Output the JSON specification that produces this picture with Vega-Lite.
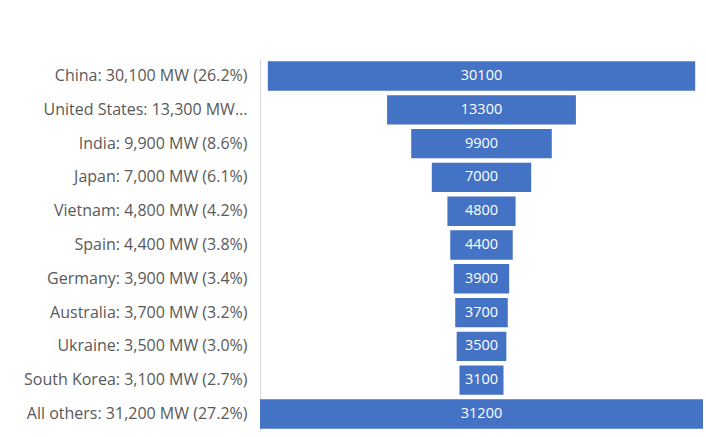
{
  "$schema": "https://vega.github.io/schema/vega-lite/v6.json",
  "autosize": {"type": "none"},
  "padding": {"left": 260, "top": 59, "right": 3, "bottom": 6},
  "width": 443,
  "height": 372,
  "background": "white",
  "config": {
    "view": {"stroke": null},
    "font": "Open Sans"
  },
  "data": {
    "values": [
      {"label": "China: 30,100 MW (26.2%)", "mw": 30100},
      {"label": "United States: 13,300 MW...", "mw": 13300},
      {"label": "India: 9,900 MW (8.6%)", "mw": 9900},
      {"label": "Japan: 7,000 MW (6.1%)", "mw": 7000},
      {"label": "Vietnam: 4,800 MW (4.2%)", "mw": 4800},
      {"label": "Spain: 4,400 MW (3.8%)", "mw": 4400},
      {"label": "Germany: 3,900 MW (3.4%)", "mw": 3900},
      {"label": "Australia: 3,700 MW (3.2%)", "mw": 3700},
      {"label": "Ukraine: 3,500 MW (3.0%)", "mw": 3500},
      {"label": "South Korea: 3,100 MW (2.7%)", "mw": 3100},
      {"label": "All others: 31,200 MW (27.2%)", "mw": 31200}
    ]
  },
  "encoding": {
    "y": {
      "field": "label",
      "type": "nominal",
      "sort": null,
      "scale": {"paddingInner": 0.13, "paddingOuter": 0.07},
      "axis": {
        "title": null,
        "ticks": false,
        "domainColor": "#d9d9d9",
        "domainWidth": 1,
        "labelColor": "#595959",
        "labelFontSize": 16,
        "labelPadding": 13,
        "labelLimit": 260
      }
    }
  },
  "layer": [
    {
      "mark": {"type": "bar", "color": "#4472C4"},
      "encoding": {
        "x": {
          "field": "mw",
          "type": "quantitative",
          "stack": "center",
          "scale": {"domain": [0, 31200], "nice": false, "zero": true},
          "axis": null
        }
      }
    },
    {
      "mark": {"type": "text", "color": "white", "fontSize": 14.5, "align": "center", "baseline": "middle"},
      "encoding": {
        "x": {"datum": 15600, "type": "quantitative"},
        "text": {"field": "mw", "type": "quantitative", "format": "d"}
      }
    }
  ]
}
